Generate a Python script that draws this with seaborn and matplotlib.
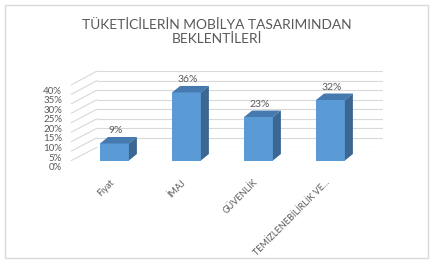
import matplotlib
matplotlib.use("Agg")
import matplotlib.pyplot as plt
import seaborn as sns
import pandas as pd
from matplotlib.patches import Polygon, Rectangle
from matplotlib.lines import Line2D
from matplotlib.transforms import IdentityTransform, ScaledTranslation
from matplotlib.ticker import FuncFormatter

# ---- data ----
categories = ["Fiyat", "İMAJ", "GÜVENLİK", "TEMİZLENEBİLİRLİK VE..."]
values = [9, 36, 23, 32]
yticks = [0, 5, 10, 15, 20, 25, 30, 35, 40]
title = "TÜKETİCİLERİN MOBİLYA TASARIMINDAN\nBEKLENTİLERİ"

sns.set_theme(style="white")
plt.rcParams["font.family"] = ["Lato", "DejaVu Sans"]

TXT = "#595959"
GRID = "#D9D9D9"
FRONT = "#5B9BD5"
TOP = "#4679B0"
SIDE = "#3B6893"

W, H = 433, 260
DPI = 100
fig = plt.figure(figsize=(W / DPI, H / DPI), dpi=DPI)
fig.patch.set_facecolor("white")


def px(x0, ytop, x1, ybot):
    return [x0 / W, 1 - ybot / H, (x1 - x0) / W, (ybot - ytop) / H]


# chart frame
fig.add_artist(Rectangle((5 / W, 1 - 258 / H), 423 / W, 253 / H,
                         transform=fig.transFigure, fill=False,
                         edgecolor="#D9D9D9", linewidth=1.0))

fig.text(217 / W, 1 - 32 / H, title, ha="center", va="center",
         fontsize=9.9, color=TXT, linespacing=1.15)

df = pd.DataFrame({"cat": categories, "val": values})

# back wall with gridlines
back = fig.add_axes(px(97, 71, 383, 147.3))
back.set_xlim(-0.5, 3.5)
back.set_ylim(0, 40)
back.set_yticks(yticks)
back.set_xticks([])
back.tick_params(left=False, labelleft=False)
back.yaxis.grid(True, color=GRID, linewidth=0.8)
for s in back.spines.values():
    s.set_visible(False)
back.patch.set_alpha(0)

# bar plane
ax = fig.add_axes(px(78.5, 84.9, 366.5, 160.5))
sns.barplot(data=df, x="cat", y="val", ax=ax, color=FRONT, width=0.4,
            saturation=1, edgecolor="none", linewidth=0)
ax.set_xlim(-0.5, 3.5)
ax.set_ylim(0, 40)
ax.set_xlabel("")
ax.set_ylabel("")
ax.set_yticks([])
ax.patch.set_alpha(0)
for s in ax.spines.values():
    s.set_visible(False)
ax.tick_params(axis="x", length=0, pad=12.5, labelsize=6.5, labelcolor=TXT)
for lab in ax.get_xticklabels():
    lab.set_rotation(45)
    lab.set_ha("right")
    lab.set_va("top")
    lab.set_rotation_mode("anchor")
    lab.set_transform(lab.get_transform() + ScaledTranslation(-5 / DPI, 0, fig.dpi_scale_trans))

# 3D faces of bars
dx, dy = 8.0, 6.5
fig.canvas.draw()
for bar in ax.patches:
    x0, y0 = bar.get_x(), bar.get_y()
    w, h = bar.get_width(), bar.get_height()
    (ax0, ay0) = ax.transData.transform((x0, y0))
    (ax1, ay1) = ax.transData.transform((x0 + w, y0 + h))
    top = Polygon([(ax0, ay1), (ax1, ay1), (ax1 + dx, ay1 + dy), (ax0 + dx, ay1 + dy)],
                  closed=True, transform=IdentityTransform(), facecolor=TOP,
                  edgecolor="none")
    side = Polygon([(ax1, ay0), (ax1 + dx, ay0 + dy), (ax1 + dx, ay1 + dy), (ax1, ay1)],
                   closed=True, transform=IdentityTransform(), facecolor=SIDE,
                   edgecolor="none")
    ax.add_artist(top)
    ax.add_artist(side)
    ax.annotate(f"{h:.0f}%", xy=(x0 + w / 2, h), xytext=(1, 10),
                textcoords="offset pixels", ha="center", va="baseline",
                fontsize=7.5, color=TXT)

# front plane tick labels
lab_ax = fig.add_axes(px(62, 90, 66, 166.7))
lab_ax.set_ylim(0, 40)
lab_ax.set_yticks(yticks)
lab_ax.yaxis.set_major_formatter(FuncFormatter(lambda v, p: f"{v:.0f}%"))
lab_ax.set_xticks([])
lab_ax.tick_params(axis="y", length=0, pad=0, labelsize=7, labelcolor=TXT)
for s in lab_ax.spines.values():
    s.set_visible(False)
lab_ax.patch.set_alpha(0)

# diagonal depth lines from front plane to back wall
for v in yticks:
    fx, fy = ax.transData.transform((-0.6, v))
    bx, by = back.transData.transform((-0.5, v))
    fig.add_artist(Line2D([fx, bx], [fy, by], transform=IdentityTransform(),
                          color=GRID, linewidth=0.8))

fig.savefig("out.png", dpi=DPI, facecolor="white")
